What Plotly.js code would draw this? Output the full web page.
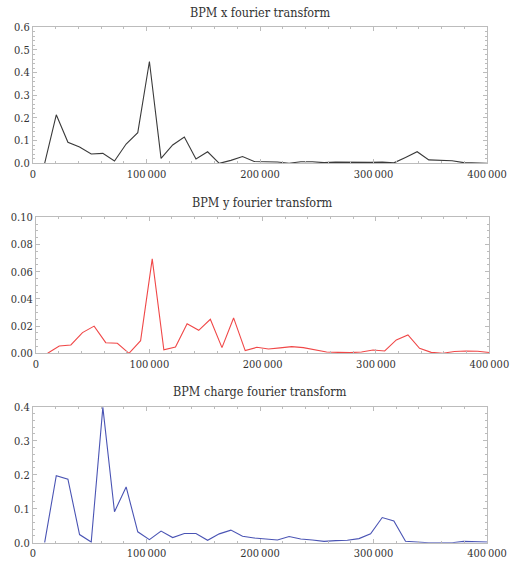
<!DOCTYPE html>
<html>
<head>
<meta charset="utf-8">
<script src="https://cdn.plot.ly/plotly-3.0.1.min.js"></script>
<style>html,body{margin:0;padding:0;background:#fff;}#chart{width:514px;height:561px;}</style>
</head>
<body>
<div id="chart"></div>
<script>
const freq = [10256, 20513, 30769, 41026, 51282, 61538, 71795, 82051, 92308, 102564,
  112821, 123077, 133333, 143590, 153846, 164103, 174359, 184615, 194872, 205128,
  215385, 225641, 235897, 246154, 256410, 266667, 276923, 287179, 297436, 307692,
  317949, 328205, 338462, 348718, 358974, 369231, 379487, 389744, 400000];

const bpmX = [0.000, 0.214, 0.093, 0.072, 0.041, 0.044, 0.010, 0.085, 0.135, 0.449,
  0.022, 0.081, 0.116, 0.019, 0.051, 0.000, 0.013, 0.030, 0.008, 0.006,
  0.006, 0.000, 0.007, 0.007, 0.003, 0.005, 0.004, 0.003, 0.004, 0.005,
  0.002, 0.026, 0.051, 0.015, 0.013, 0.011, 0.003, 0.001, 0.000];

const bpmY = [0.0000, 0.0054, 0.0061, 0.0152, 0.0200, 0.0078, 0.0074, 0.0000, 0.0093, 0.0694,
  0.0025, 0.0047, 0.0218, 0.0169, 0.0250, 0.0042, 0.0260, 0.0020, 0.0044, 0.0032,
  0.0040, 0.0049, 0.0042, 0.0025, 0.0010, 0.0007, 0.0005, 0.0010, 0.0024, 0.0017,
  0.0098, 0.0135, 0.0037, 0.0007, 0.0000, 0.0013, 0.0017, 0.0015, 0.0006];

const bpmCharge = [0.000, 0.197, 0.187, 0.024, 0.002, 0.398, 0.091, 0.164, 0.032, 0.009,
  0.034, 0.015, 0.027, 0.027, 0.007, 0.026, 0.037, 0.019, 0.014, 0.012,
  0.008, 0.018, 0.011, 0.008, 0.004, 0.006, 0.007, 0.012, 0.026, 0.074,
  0.064, 0.004, 0.001, 0.000, 0.000, 0.000, 0.004, 0.003, 0.002];

const xTickVals = [0, 100000, 200000, 300000, 400000];
const xTickText = ["0", "100\u2009000", "200\u2009000", "300\u2009000", "400\u2009000"];

const titles = ["BPM x fourier transform", "BPM y fourier transform", "BPM charge fourier transform"];

const W = 514, H = 561;
const FONT = "DejaVu Serif Condensed";
const frame = "#bcbcbc";

function xa(dom, anchor) {
  return {
    domain: dom, anchor: anchor, range: [0, 400000],
    tickvals: xTickVals, ticktext: xTickText,
    showgrid: false, zeroline: false,
    showline: true, linecolor: frame, linewidth: 1, mirror: 'ticks',
    ticks: 'inside', ticklen: 4, tickcolor: frame, tickwidth: 1,
    minor: {dtick: 20000, tick0: 0, ticks: 'inside', ticklen: 2, tickcolor: frame, showgrid: false},
    tickfont: {family: FONT, size: 11, color: '#333'}, fixedrange: true
  };
}
function ya(dom, anchor, rng, dt, minor, fmt) {
  return {
    domain: dom, anchor: anchor, range: rng, dtick: dt, tick0: 0, tickformat: fmt,
    showgrid: false, zeroline: false,
    showline: true, linecolor: frame, linewidth: 1, mirror: 'ticks',
    ticks: 'inside', ticklen: 4, tickcolor: frame, tickwidth: 1,
    minor: {dtick: minor, tick0: 0, ticks: 'inside', ticklen: 2, tickcolor: frame, showgrid: false},
    tickfont: {family: FONT, size: 11, color: '#333'}, fixedrange: true
  };
}

const d1x = [33/W, 487/W], d1y = [1 - 163.3/H, 1 - 27.3/H];
const d2x = [36/W, 489.3/W], d2y = [1 - 353.3/H, 1 - 217.3/H];
const d3x = [33/W, 487/W], d3y = [1 - 542.7/H, 1 - 406.7/H];

const traces = [
  {x: freq, y: bpmX, xaxis: 'x', yaxis: 'y', mode: 'lines', line: {color: '#3a3a3a', width: 1.1}, hoverinfo: 'skip'},
  {x: freq, y: bpmY, xaxis: 'x2', yaxis: 'y2', mode: 'lines', line: {color: '#f04848', width: 1.1}, hoverinfo: 'skip'},
  {x: freq, y: bpmCharge, xaxis: 'x3', yaxis: 'y3', mode: 'lines', line: {color: '#4a54b4', width: 1.1}, hoverinfo: 'skip'}
];

const layout = {
  width: W, height: H,
  margin: {l: 0, r: 0, t: 0, b: 0},
  paper_bgcolor: '#fff', plot_bgcolor: '#fff',
  font: {family: FONT, size: 11, color: '#333'},
  showlegend: false,
  xaxis: xa(d1x, 'y'), yaxis: ya(d1y, 'x', [0, 0.6], 0.1, 0.02, '.1f'),
  xaxis2: xa(d2x, 'y2'), yaxis2: ya(d2y, 'x2', [0, 0.1], 0.02, 0.005, '.2f'),
  xaxis3: xa(d3x, 'y3'), yaxis3: ya(d3y, 'x3', [0, 0.4], 0.1, 0.02, '.1f'),
  annotations: [
    {text: titles[0], x: 260/W, y: 1 - 12.5/H},
    {text: titles[1], x: 262/W, y: 1 - 202/H},
    {text: titles[2], x: 260/W, y: 1 - 391/H}
  ].map(a => Object.assign(a, {xref: 'paper', yref: 'paper', xanchor: 'center', yanchor: 'middle', showarrow: false,
    font: {family: FONT, size: 12.5, color: '#333'}}))
};

Plotly.newPlot('chart', traces, layout, {displayModeBar: false, staticPlot: true});
</script>
</body>
</html>
